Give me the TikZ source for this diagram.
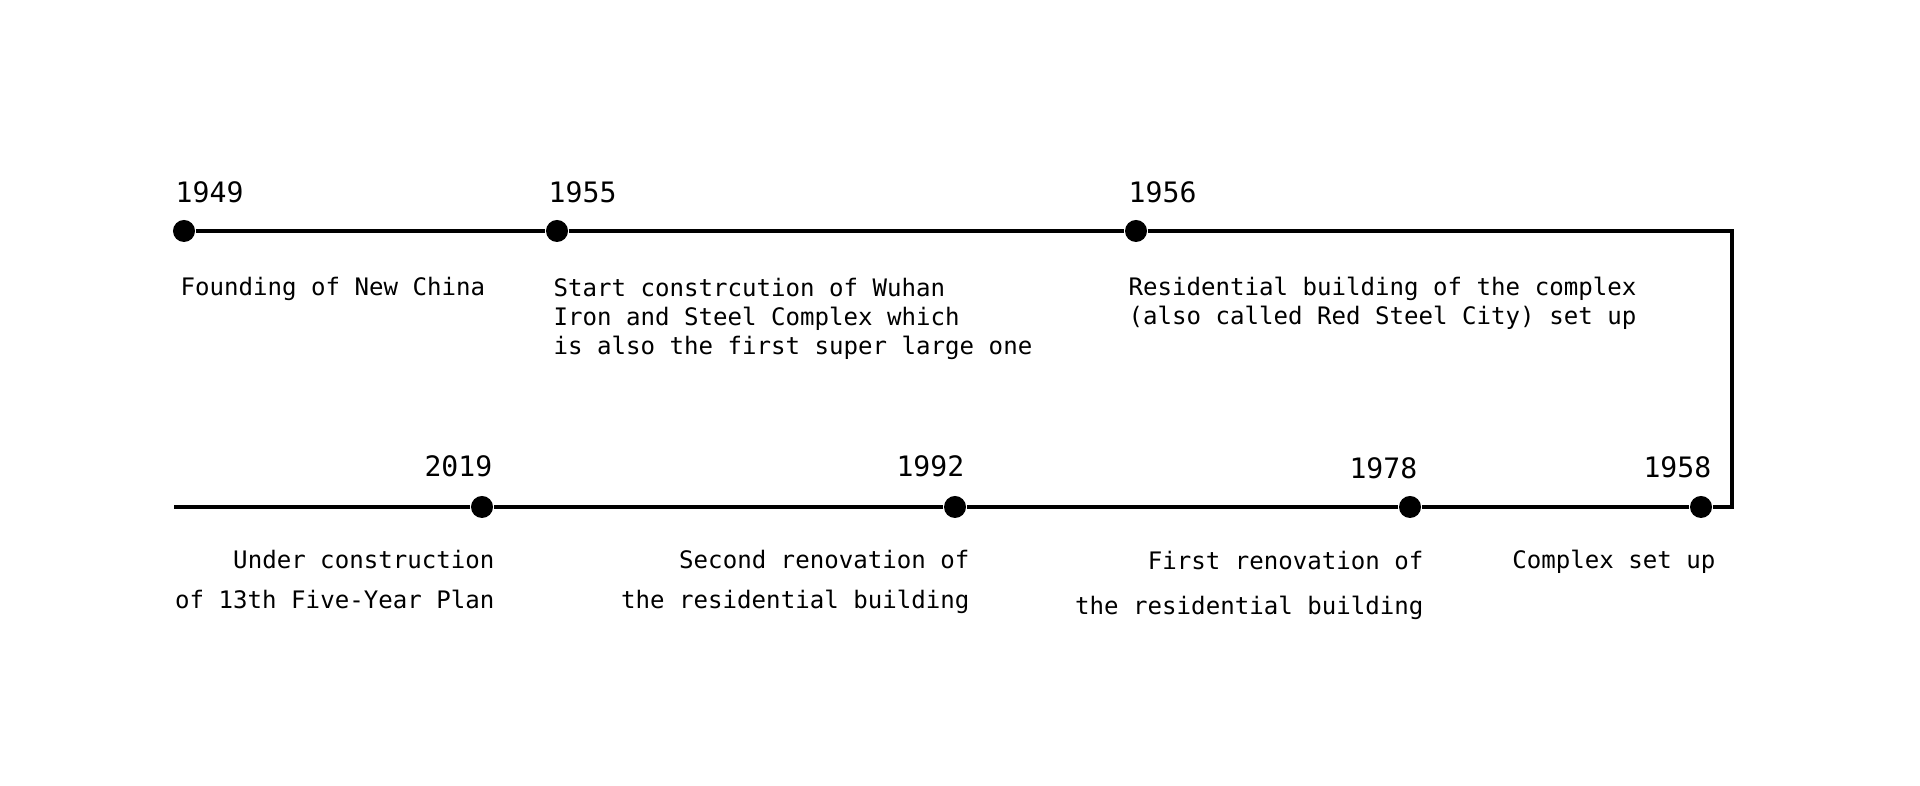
\documentclass[tikz,border=0pt]{standalone}
\usepackage{fontspec}
\newfontfamily\tlfont{DejaVu Sans Mono}
\begin{document}
\begin{tikzpicture}[x=0.01cm, y=-0.01cm,
    event/.style={circle, fill=black, inner sep=0pt, minimum size=0.22cm},
    year/.style={inner sep=0pt, font=\tlfont\fontsize{8}{9.6}\selectfont},
    note/.style={inner sep=0pt, align=left, font=\tlfont\fontsize{6.85}{8.36}\selectfont},
    rnote/.style={note, align=right, font=\tlfont\fontsize{6.85}{11.4}\selectfont}]
  \useasboundingbox (0,0) rectangle (1920,786);
  % top row
  \node[event] (e1949) at (184,231) {};
  \node[event] (e1955) at (557,231) {};
  \node[event] (e1956) at (1136,231) {};
  % bottom row, read from right to left
  \node[event] (e1958) at (1701,507) {};
  \node[event] (e1978) at (1410,507) {};
  \node[event] (e1992) at (955,507) {};
  \node[event] (e2019) at (482,507) {};
  \coordinate (ne) at (1732,231);
  \coordinate (se) at (1732,507);
  \coordinate (wend) at (174,507);
  \draw[line width=0.9pt] (e1949) -- (e1955) -- (e1956) -- (ne) -- (se)
    -- (e1958) -- (e1978) -- (e1992) -- (e2019) -- (wend);
  % years
  \node[year, anchor=base west] (y1949) at (175,203) {1949};
  \node[year, anchor=base west] (y1955) at (548,203) {1955};
  \node[year, anchor=base west] (y1956) at (1128,203) {1956};
  \node[year, anchor=base east] (y1958) at (1712,478) {1958};
  \node[year, anchor=base east] (y1978) at (1418,479) {1978};
  \node[year, anchor=base east] (y1992) at (965,477) {1992};
  \node[year, anchor=base east] (y2019) at (493,477) {2019};
  % notes (base = last line)
  \node[note, anchor=base west] (n1949) at (180,296) {Founding of New China};
  \node[note, anchor=base west] (n1955) at (553,355) {Start constrcution of Wuhan\\Iron and Steel Complex which\\is also the first super large one};
  \node[note, anchor=base west] (n1956) at (1128,325) {Residential building of the complex\\(also called Red Steel City) set up};
  \node[rnote, anchor=base east] (n1958) at (1716,569) {Complex set up};
  \node[rnote, anchor=base east] (n1978) at (1424,615) {First renovation of\\[1.4pt]the residential building};
  \node[rnote, anchor=base east] (n1992) at (970,609) {Second renovation of\\the residential building};
  \node[rnote, anchor=base east] (n2019) at (495,609) {Under construction\\of 13th Five-Year Plan};
\end{tikzpicture}
\end{document}
